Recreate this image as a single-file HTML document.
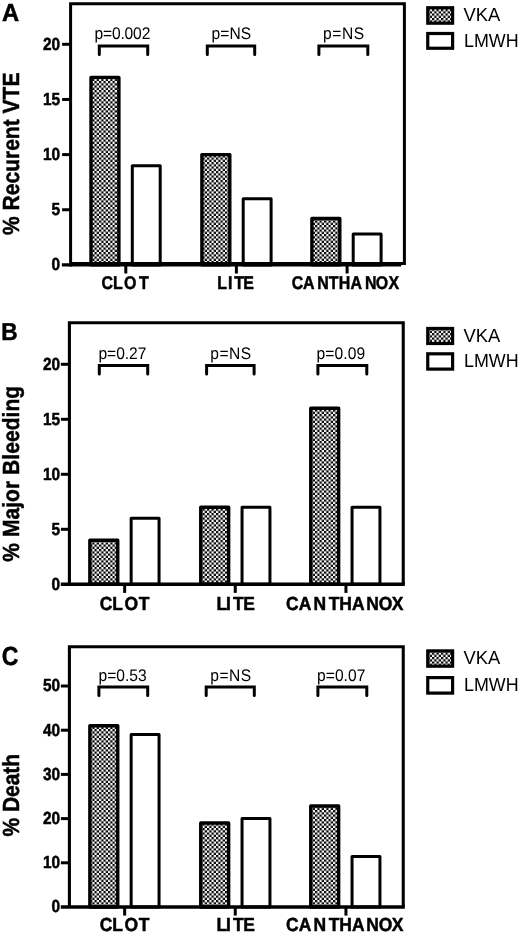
<!DOCTYPE html>
<html><head><meta charset="utf-8"><title>Figure</title>
<style>
html,body{margin:0;padding:0;background:#fff;}
body{width:520px;height:934px;overflow:hidden;}
svg{display:block;font-family:"Liberation Sans", Arial, sans-serif;fill:#000;font-kerning:none;text-rendering:geometricPrecision;}
</style></head><body>
<svg width="520" height="934" viewBox="0 0 520 934">
<defs>
<pattern id="chk" width="4.5" height="4.5" patternUnits="userSpaceOnUse">
<rect width="4.5" height="4.5" fill="#fff"/><rect width="2.25" height="2.25" fill="#000"/><rect x="2.25" y="2.25" width="2.25" height="2.25" fill="#000"/>
</pattern>
</defs>
<rect width="520" height="934" fill="#fff"/>
<g>
<rect x="91.00" y="77.39" width="27.90" height="187.51" fill="url(#chk)" stroke="#000" stroke-width="3.4" stroke-linejoin="round"/>
<rect x="132.30" y="165.63" width="27.90" height="99.27" fill="#fff" stroke="#000" stroke-width="3" stroke-linejoin="round"/>
<rect x="201.90" y="154.60" width="27.90" height="110.30" fill="url(#chk)" stroke="#000" stroke-width="3.4" stroke-linejoin="round"/>
<rect x="243.20" y="198.72" width="27.90" height="66.18" fill="#fff" stroke="#000" stroke-width="3" stroke-linejoin="round"/>
<rect x="311.90" y="218.57" width="27.90" height="46.33" fill="url(#chk)" stroke="#000" stroke-width="3.4" stroke-linejoin="round"/>
<rect x="353.20" y="234.02" width="27.90" height="30.88" fill="#fff" stroke="#000" stroke-width="3" stroke-linejoin="round"/>
<path d="M70.60 264.90V3.80H404.40V263.50H70.60" fill="none" stroke="#000" stroke-width="3" stroke-linejoin="miter" stroke-linecap="square"/>
<path d="M61.90 264.90H401.20" fill="none" stroke="#000" stroke-width="3.4"/>
<text transform="translate(60.20 270.30) scale(0.884 1)" font-size="17.44" font-weight="bold" stroke="#000" stroke-width="0.5" text-anchor="end">0</text>
<path d="M62.10 209.75H70.60" stroke="#000" stroke-width="3"/>
<text transform="translate(60.20 215.15) scale(0.884 1)" font-size="17.44" font-weight="bold" stroke="#000" stroke-width="0.5" text-anchor="end">5</text>
<path d="M62.10 154.60H70.60" stroke="#000" stroke-width="3"/>
<text transform="translate(60.20 160.00) scale(0.884 1)" font-size="17.44" font-weight="bold" stroke="#000" stroke-width="0.5" text-anchor="end">10</text>
<path d="M62.10 99.45H70.60" stroke="#000" stroke-width="3"/>
<text transform="translate(60.20 104.85) scale(0.884 1)" font-size="17.44" font-weight="bold" stroke="#000" stroke-width="0.5" text-anchor="end">15</text>
<path d="M62.10 44.30H70.60" stroke="#000" stroke-width="3"/>
<text transform="translate(60.20 49.70) scale(0.884 1)" font-size="17.44" font-weight="bold" stroke="#000" stroke-width="0.5" text-anchor="end">20</text>
<path d="M125.80 264.90V273.50" stroke="#000" stroke-width="3"/>
<text transform="translate(0 288.50) scale(0.866 1)" font-size="18.4" font-weight="bold" stroke="#000" stroke-width="0.5" x="117.08 130.54 143.31 160.43">CLOT</text>
<path d="M236.40 264.90V273.50" stroke="#000" stroke-width="3"/>
<text transform="translate(0 288.50) scale(0.866 1)" font-size="18.4" font-weight="bold" stroke="#000" stroke-width="0.5" x="250.98 263.32 270.36 280.96">LITE</text>
<path d="M347.10 264.90V273.50" stroke="#000" stroke-width="3"/>
<text transform="translate(0 288.50) scale(0.866 1)" font-size="18.4" font-weight="bold" stroke="#000" stroke-width="0.5" x="336.76 349.95 366.34 379.71 391.28 404.69 421.54 433.96 448.71">CANTHANOX</text>
<path d="M99.30 54.50V46.00H147.70V54.50" fill="none" stroke="#000" stroke-width="3" stroke-linecap="round" stroke-linejoin="miter"/>
<text transform="translate(94.39 38.60) scale(0.93 1)" font-size="16.8" letter-spacing="-0.165">p=0.002</text>
<path d="M207.30 54.50V46.00H254.70V54.50" fill="none" stroke="#000" stroke-width="3" stroke-linecap="round" stroke-linejoin="miter"/>
<text transform="translate(211.49 38.60) scale(0.93 1)" font-size="16.8" letter-spacing="0.110">p=NS</text>
<path d="M318.90 54.50V46.00H367.80V54.50" fill="none" stroke="#000" stroke-width="3" stroke-linecap="round" stroke-linejoin="miter"/>
<text transform="translate(323.09 38.60) scale(0.93 1)" font-size="16.8" letter-spacing="0.612">p=NS</text>
<text transform="translate(2.00 21.00) scale(0.962 1)" font-size="24.7" font-weight="bold" stroke="#000" stroke-width="0.5">A</text>
<text transform="translate(19.30 234.40) rotate(-90) scale(0.9 1)" x="-0.58" font-size="23.3" font-weight="bold" stroke="#000" stroke-width="0.5" letter-spacing="0.031">% Recurent VTE</text>
<rect x="427.75" y="7.75" width="24.85" height="15.45" fill="url(#chk)" stroke="#000" stroke-width="3.2" stroke-linejoin="miter"/>
<rect x="427.75" y="33.50" width="24.85" height="14.75" fill="#fff" stroke="#000" stroke-width="3.2" stroke-linejoin="miter"/>
<text transform="translate(463.55 21.45) scale(0.975 1)" font-size="18.9">VKA</text>
<text transform="translate(464.00 46.70) scale(0.946 1)" font-size="18.9">LMWH</text>
</g>
<g>
<rect x="89.85" y="540.30" width="27.90" height="44.00" fill="url(#chk)" stroke="#000" stroke-width="3.4" stroke-linejoin="round"/>
<rect x="131.15" y="518.30" width="27.90" height="66.00" fill="#fff" stroke="#000" stroke-width="3" stroke-linejoin="round"/>
<rect x="200.75" y="507.30" width="27.90" height="77.00" fill="url(#chk)" stroke="#000" stroke-width="3.4" stroke-linejoin="round"/>
<rect x="242.05" y="507.30" width="27.90" height="77.00" fill="#fff" stroke="#000" stroke-width="3" stroke-linejoin="round"/>
<rect x="310.75" y="408.30" width="27.90" height="176.00" fill="url(#chk)" stroke="#000" stroke-width="3.4" stroke-linejoin="round"/>
<rect x="352.05" y="507.30" width="27.90" height="77.00" fill="#fff" stroke="#000" stroke-width="3" stroke-linejoin="round"/>
<path d="M69.40 584.30V322.70H403.25V584.30" fill="none" stroke="#000" stroke-width="3.1" stroke-linejoin="miter"/>
<path d="M60.80 584.30H404.80" fill="none" stroke="#000" stroke-width="3.5"/>
<text transform="translate(60.20 590.30) scale(0.884 1)" font-size="17.44" font-weight="bold" stroke="#000" stroke-width="0.5" text-anchor="end">0</text>
<path d="M60.90 529.30H69.40" stroke="#000" stroke-width="3"/>
<text transform="translate(60.20 534.70) scale(0.884 1)" font-size="17.44" font-weight="bold" stroke="#000" stroke-width="0.5" text-anchor="end">5</text>
<path d="M60.90 474.30H69.40" stroke="#000" stroke-width="3"/>
<text transform="translate(60.20 479.70) scale(0.884 1)" font-size="17.44" font-weight="bold" stroke="#000" stroke-width="0.5" text-anchor="end">10</text>
<path d="M60.90 419.30H69.40" stroke="#000" stroke-width="3"/>
<text transform="translate(60.20 424.70) scale(0.884 1)" font-size="17.44" font-weight="bold" stroke="#000" stroke-width="0.5" text-anchor="end">15</text>
<path d="M60.90 364.30H69.40" stroke="#000" stroke-width="3"/>
<text transform="translate(60.20 369.70) scale(0.884 1)" font-size="17.44" font-weight="bold" stroke="#000" stroke-width="0.5" text-anchor="end">20</text>
<path d="M124.65 584.30V592.90" stroke="#000" stroke-width="3"/>
<text transform="translate(0 609.60) scale(0.924 1)" font-size="18.9" font-weight="bold" stroke="#000" stroke-width="0.5" x="107.98 121.48 134.81 150.18">CLOT</text>
<path d="M235.25 584.30V592.90" stroke="#000" stroke-width="3"/>
<text transform="translate(0 609.60) scale(0.924 1)" font-size="18.9" font-weight="bold" stroke="#000" stroke-width="0.5" x="234.42 244.51 252.18 263.18">LITE</text>
<path d="M345.95 584.30V592.90" stroke="#000" stroke-width="3"/>
<text transform="translate(0 609.60) scale(0.924 1)" font-size="18.9" font-weight="bold" stroke="#000" stroke-width="0.5" x="309.60 323.38 339.23 355.75 367.26 380.85 396.43 409.81 424.05">CANTHANOX</text>
<path d="M99.30 373.90V365.40H147.70V373.90" fill="none" stroke="#000" stroke-width="3" stroke-linecap="round" stroke-linejoin="miter"/>
<text transform="translate(98.49 358.90) scale(0.93 1)" font-size="16.8" letter-spacing="-0.071">p=0.27</text>
<path d="M206.60 373.90V365.40H254.10V373.90" fill="none" stroke="#000" stroke-width="3" stroke-linecap="round" stroke-linejoin="miter"/>
<text transform="translate(210.19 358.90) scale(0.93 1)" font-size="16.8" letter-spacing="0.576">p=NS</text>
<path d="M317.90 373.90V365.40H366.80V373.90" fill="none" stroke="#000" stroke-width="3" stroke-linecap="round" stroke-linejoin="miter"/>
<text transform="translate(316.39 358.90) scale(0.93 1)" font-size="16.8" letter-spacing="0.156">p=0.09</text>
<text transform="translate(1.20 339.90) scale(0.93 1)" font-size="24.4" font-weight="bold" stroke="#000" stroke-width="0.5">B</text>
<text transform="translate(19.30 561.20) rotate(-90) scale(0.9 1)" x="-0.58" font-size="23.3" font-weight="bold" stroke="#000" stroke-width="0.5" letter-spacing="0.085">% Major Bleeding</text>
<rect x="427.75" y="328.45" width="24.85" height="15.05" fill="url(#chk)" stroke="#000" stroke-width="3.2" stroke-linejoin="miter"/>
<rect x="427.75" y="353.80" width="24.85" height="15.30" fill="#fff" stroke="#000" stroke-width="3.2" stroke-linejoin="miter"/>
<text transform="translate(463.55 341.70) scale(0.975 1)" font-size="18.9">VKA</text>
<text transform="translate(464.00 367.00) scale(0.946 1)" font-size="18.9">LMWH</text>
</g>
<g>
<rect x="89.85" y="725.78" width="27.90" height="181.22" fill="url(#chk)" stroke="#000" stroke-width="3.4" stroke-linejoin="round"/>
<rect x="131.15" y="734.62" width="27.90" height="172.38" fill="#fff" stroke="#000" stroke-width="3" stroke-linejoin="round"/>
<rect x="200.75" y="823.02" width="27.90" height="83.98" fill="url(#chk)" stroke="#000" stroke-width="3.4" stroke-linejoin="round"/>
<rect x="242.05" y="818.60" width="27.90" height="88.40" fill="#fff" stroke="#000" stroke-width="3" stroke-linejoin="round"/>
<rect x="310.75" y="806.00" width="27.90" height="101.00" fill="url(#chk)" stroke="#000" stroke-width="3.4" stroke-linejoin="round"/>
<rect x="352.05" y="856.61" width="27.90" height="50.39" fill="#fff" stroke="#000" stroke-width="3" stroke-linejoin="round"/>
<path d="M69.40 907.00V646.70H403.25V907.00" fill="none" stroke="#000" stroke-width="3.1" stroke-linejoin="miter"/>
<path d="M60.80 907.00H404.80" fill="none" stroke="#000" stroke-width="3.5"/>
<text transform="translate(60.20 912.40) scale(0.884 1)" font-size="17.44" font-weight="bold" stroke="#000" stroke-width="0.5" text-anchor="end">0</text>
<path d="M60.90 862.80H69.40" stroke="#000" stroke-width="3"/>
<text transform="translate(60.20 868.20) scale(0.884 1)" font-size="17.44" font-weight="bold" stroke="#000" stroke-width="0.5" text-anchor="end">10</text>
<path d="M60.90 818.60H69.40" stroke="#000" stroke-width="3"/>
<text transform="translate(60.20 824.00) scale(0.884 1)" font-size="17.44" font-weight="bold" stroke="#000" stroke-width="0.5" text-anchor="end">20</text>
<path d="M60.90 774.40H69.40" stroke="#000" stroke-width="3"/>
<text transform="translate(60.20 779.80) scale(0.884 1)" font-size="17.44" font-weight="bold" stroke="#000" stroke-width="0.5" text-anchor="end">30</text>
<path d="M60.90 730.20H69.40" stroke="#000" stroke-width="3"/>
<text transform="translate(60.20 735.60) scale(0.884 1)" font-size="17.44" font-weight="bold" stroke="#000" stroke-width="0.5" text-anchor="end">40</text>
<path d="M60.90 686.00H69.40" stroke="#000" stroke-width="3"/>
<text transform="translate(60.20 691.40) scale(0.884 1)" font-size="17.44" font-weight="bold" stroke="#000" stroke-width="0.5" text-anchor="end">50</text>
<path d="M124.65 907.00V915.60" stroke="#000" stroke-width="3"/>
<text transform="translate(0 931.20) scale(0.924 1)" font-size="18.9" font-weight="bold" stroke="#000" stroke-width="0.5" x="107.98 121.48 134.81 150.18">CLOT</text>
<path d="M235.25 907.00V915.60" stroke="#000" stroke-width="3"/>
<text transform="translate(0 931.20) scale(0.924 1)" font-size="18.9" font-weight="bold" stroke="#000" stroke-width="0.5" x="234.42 244.51 252.18 263.18">LITE</text>
<path d="M345.95 907.00V915.60" stroke="#000" stroke-width="3"/>
<text transform="translate(0 931.20) scale(0.924 1)" font-size="18.9" font-weight="bold" stroke="#000" stroke-width="0.5" x="309.60 323.38 339.23 355.75 367.26 380.85 396.43 409.81 424.05">CANTHANOX</text>
<path d="M98.90 695.60V687.10H147.70V695.60" fill="none" stroke="#000" stroke-width="3" stroke-linecap="round" stroke-linejoin="miter"/>
<text transform="translate(98.49 680.70) scale(0.93 1)" font-size="16.8" letter-spacing="-0.006">p=0.53</text>
<path d="M206.20 695.60V687.10H254.30V695.60" fill="none" stroke="#000" stroke-width="3" stroke-linecap="round" stroke-linejoin="miter"/>
<text transform="translate(210.19 680.70) scale(0.93 1)" font-size="16.8" letter-spacing="0.576">p=NS</text>
<path d="M317.90 695.60V687.10H366.80V695.60" fill="none" stroke="#000" stroke-width="3" stroke-linecap="round" stroke-linejoin="miter"/>
<text transform="translate(317.09 680.70) scale(0.93 1)" font-size="16.8" letter-spacing="0.015">p=0.07</text>
<text transform="translate(1.65 664.90) scale(0.882 1)" font-size="26.2" font-weight="bold" stroke="#000" stroke-width="0.5">C</text>
<text transform="translate(19.30 835.90) rotate(-90) scale(0.9 1)" x="-0.58" font-size="23.3" font-weight="bold" stroke="#000" stroke-width="0.5" letter-spacing="-0.058">% Death</text>
<rect x="427.75" y="650.90" width="24.85" height="15.30" fill="url(#chk)" stroke="#000" stroke-width="3.2" stroke-linejoin="miter"/>
<rect x="427.75" y="677.60" width="24.85" height="15.50" fill="#fff" stroke="#000" stroke-width="3.2" stroke-linejoin="miter"/>
<text transform="translate(463.55 663.75) scale(0.975 1)" font-size="18.9">VKA</text>
<text transform="translate(464.00 691.20) scale(0.946 1)" font-size="18.9">LMWH</text>
</g>
</svg></body></html>
